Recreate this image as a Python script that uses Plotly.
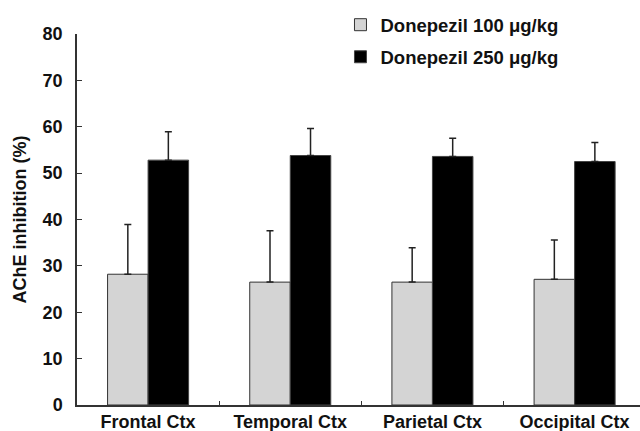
import plotly.graph_objects as go

categories = ["Frontal Ctx", "Temporal Ctx", "Parietal Ctx", "Occipital Ctx"]
dose100_mean = [28.2, 26.5, 26.5, 27.1]
dose100_err = [10.7, 11.1, 7.4, 8.5]
dose250_mean = [52.8, 53.8, 53.6, 52.5]
dose250_err = [6.1, 5.8, 3.9, 4.1]
y_ticks = [0, 10, 20, 30, 40, 50, 60, 70, 80]

FONT = "Liberation Sans, Arial, sans-serif"

fig = go.Figure()
fig.add_trace(go.Bar(
    name="Donepezil 100 μg/kg", x=categories, y=dose100_mean,
    marker=dict(color="#d4d4d4", line=dict(color="#333333", width=1)),
    error_y=dict(type="data", symmetric=False, array=dose100_err,
                 arrayminus=[0] * len(dose100_err), color="#222222",
                 thickness=1.5, width=3.5),
    legendgroup="a",
))
fig.add_trace(go.Bar(
    name="Donepezil 250 μg/kg", x=categories, y=dose250_mean,
    marker=dict(color="#000000", line=dict(color="#444444", width=1)),
    error_y=dict(type="data", symmetric=False, array=dose250_err,
                 arrayminus=[0] * len(dose250_err), color="#222222",
                 thickness=1.5, width=3.5),
    legendgroup="b",
))

fig.update_layout(
    width=640, height=431,
    margin=dict(l=77, r=0, t=34, b=26),
    paper_bgcolor="white", plot_bgcolor="white",
    barmode="group", bargap=0.43, bargroupgap=0,
    font=dict(family=FONT, size=18, color="#111111", weight="bold"),
    showlegend=True,
    legend=dict(x=0.468, xanchor="left", y=1.075, yanchor="top",
                font=dict(family=FONT, size=18.5, color="#111111", weight="bold"),
                tracegroupgap=5, bgcolor="rgba(0,0,0,0)"),
)
fig.update_xaxes(
    range=[-0.5, 3.46], showline=True, linecolor="#333333", linewidth=1.5,
    ticks="inside", ticklen=4, tickcolor="#333333", tickson="boundaries",
    tickfont=dict(family=FONT, size=18, color="#111111", weight="bold"),
    ticklabelstandoff=0, automargin=False,
    showgrid=False, zeroline=False, fixedrange=True,
)
fig.update_yaxes(
    range=[0, 80], tickvals=y_ticks, showline=True, linecolor="#333333",
    linewidth=1.5, ticks="inside", ticklen=5, tickcolor="#333333",
    tickfont=dict(family=FONT, size=18, color="#111111", weight="bold"),
    ticklabelstandoff=9, automargin=False,
    title=dict(text="AChE inhibition (%)", standoff=11,
               font=dict(family=FONT, size=18, color="#111111", weight="bold")),
    showgrid=False, zeroline=False,
)

fig.write_html("out.html")
